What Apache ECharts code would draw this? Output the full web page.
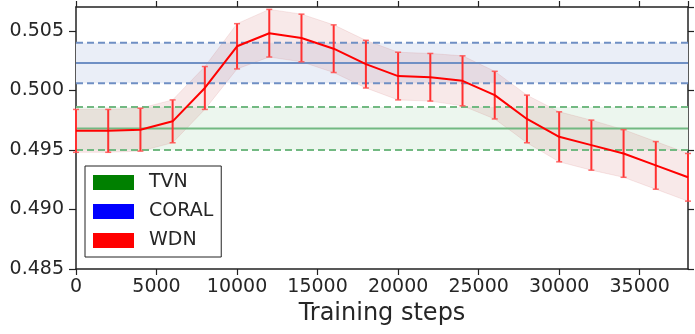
<!DOCTYPE html>
<html>
<head>
<meta charset="utf-8">
<script src="https://cdn.jsdelivr.net/npm/echarts@6/dist/echarts.min.js"></script>
<style>
  html, body { margin: 0; padding: 0; background: #fff; }
  #chart { width: 695px; height: 334px; }
</style>
</head>
<body>
<div id="chart"></div>
<script>
// training steps
var steps = [0, 2000, 4000, 6000, 8000, 10000, 12000, 14000, 16000, 18000,
  20000, 22000, 24000, 26000, 28000, 30000, 32000, 34000, 36000, 38000];
// WDN mean and std
var wdnMean = [0.4966, 0.4966, 0.4967, 0.4974, 0.5002, 0.5037, 0.5048, 0.5044, 0.5035, 0.5022,
  0.5012, 0.5011, 0.5008, 0.4996, 0.4976, 0.4961, 0.4954, 0.4947, 0.4937, 0.4927];
var wdnStd = [0.0018, 0.0018, 0.0018, 0.0018, 0.0018, 0.0019, 0.0020, 0.0020, 0.0020, 0.0020,
  0.0020, 0.0020, 0.0021, 0.0020, 0.0020, 0.0021, 0.0021, 0.0020, 0.0020, 0.0020];
// baselines: mean, std
var tvnMean = 0.4968, tvnStd = 0.0018;
var coralMean = 0.5023, coralStd = 0.0017;

var textColor = '#262626';
var font = 'DejaVu Sans';
var xMin = 0, xMax = 38000;

var meanData = [], errData = [];
for (var i = 0; i < steps.length; i++) {
  meanData.push([steps[i], wdnMean[i]]);
  errData.push([steps[i], wdnMean[i] - wdnStd[i], wdnMean[i] + wdnStd[i]]);
}

// shaded band: whole polygon drawn once from all rows
function bandSeries(rows, fill, edge, z) {
  return {
    type: 'custom',
    data: rows,
    silent: true,
    z: z,
    renderItem: function (params, api) {
      if (params.dataIndex !== 0) return null;
      var top = [], bot = [];
      for (var k = 0; k < rows.length; k++) {
        top.push(api.coord([rows[k][0], rows[k][2]]));
        bot.push(api.coord([rows[k][0], rows[k][1]]));
      }
      var pts = top.concat(bot.slice().reverse());
      return {
        type: 'polygon',
        shape: { points: pts },
        style: { fill: fill, stroke: edge, lineWidth: edge ? 1 : 0 }
      };
    }
  };
}

function hLine(name, y, color, dash) {
  return {
    name: name,
    type: 'line',
    data: [[xMin, y], [xMax, y]],
    symbol: 'none',
    silent: true,
    color: color,
    lineStyle: { color: color, width: 2, type: dash ? [7, 4] : 'solid' },
    z: 3
  };
}

var myChart = echarts.init(document.getElementById('chart'));

myChart.setOption({
  animation: false,
  textStyle: { fontFamily: font, color: textColor },
  grid: { left: 76, right: 7, top: 7, bottom: 65 },
  legend: {
    orient: 'vertical',
    left: 85,
    top: 166,
    padding: [7, 8, 7, 8],
    itemGap: 10,
    itemWidth: 41,
    itemHeight: 15,
    icon: 'rect',
    borderColor: '#222',
    borderWidth: 1,
    backgroundColor: '#fff',
    textStyle: { fontSize: 19, color: textColor, fontFamily: font, padding: [0, 0, 0, 10] },
    data: [
      { name: 'TVN', itemStyle: { color: '#008000', borderWidth: 0 } },
      { name: 'CORAL', itemStyle: { color: '#0000ff', borderWidth: 0 } },
      { name: 'WDN', itemStyle: { color: '#ff0000', borderWidth: 0 } }
    ]
  },
  xAxis: [
    {
      type: 'value',
      min: xMin,
      max: xMax,
      interval: 5000,
      name: 'Training steps',
      nameLocation: 'middle',
      nameGap: 32,
      nameTextStyle: { fontSize: 24, color: textColor },
      axisLine: { onZero: false, lineStyle: { color: '#222', width: 1.5 } },
      axisTick: { length: 6, lineStyle: { color: '#222', width: 1.2 } },
      axisLabel: {
        fontSize: 19, color: textColor, margin: 9, showMaxLabel: false,
        formatter: function (v) { return String(v); }
      },
      splitLine: { show: false }
    },
    {
      type: 'value',
      position: 'top',
      min: xMin,
      max: xMax,
      interval: 5000,
      axisLine: { onZero: false, lineStyle: { color: '#222', width: 1.5 } },
      axisTick: { length: 6, lineStyle: { color: '#222', width: 1.2 } },
      axisLabel: { show: false },
      splitLine: { show: false }
    }
  ],
  yAxis: [
    {
      type: 'value',
      min: 0.485,
      max: 0.507,
      interval: 0.005,
      axisLine: { show: true, onZero: false, lineStyle: { color: '#222', width: 1.5 } },
      axisTick: { show: true, length: 7, lineStyle: { color: '#222', width: 1.2 } },
      axisLabel: {
        fontSize: 19, color: textColor, margin: 12, showMaxLabel: false,
        formatter: function (v) { return v.toFixed(3); }
      },
      splitLine: { show: false }
    },
    {
      type: 'value',
      position: 'right',
      min: 0.485,
      max: 0.507,
      interval: 0.005,
      axisLine: { show: true, onZero: false, lineStyle: { color: '#222', width: 1.5 } },
      axisTick: { show: true, length: 6, lineStyle: { color: '#222', width: 1.2 } },
      axisLabel: { show: false },
      splitLine: { show: false }
    }
  ],
  series: [
    bandSeries([[xMin, tvnMean - tvnStd, tvnMean + tvnStd], [xMax, tvnMean - tvnStd, tvnMean + tvnStd]], '#ecf6ee', null, 1),
    bandSeries([[xMin, coralMean - coralStd, coralMean + coralStd], [xMax, coralMean - coralStd, coralMean + coralStd]], '#eaeef7', null, 1),
    bandSeries(errData, 'rgba(200,70,75,0.12)', 'rgba(200,70,75,0.12)', 2),
    hLine('TVN', tvnMean, '#72b982', false),
    hLine('tvnHi', tvnMean + tvnStd, '#72b982', true),
    hLine('tvnLo', tvnMean - tvnStd, '#72b982', true),
    hLine('CORAL', coralMean, '#6f8fc4', false),
    hLine('coralHi', coralMean + coralStd, '#6f8fc4', true),
    hLine('coralLo', coralMean - coralStd, '#6f8fc4', true),
    {
      name: 'WDN',
      type: 'line',
      data: meanData,
      color: '#ff0000',
      symbol: 'none',
      silent: true,
      lineStyle: { color: '#ff0000', width: 2 },
      z: 6
    },
    {
      name: 'wdnErr',
      type: 'custom',
      data: errData,
      silent: true,
      z: 5,
      renderItem: function (params, api) {
        var x = api.value(0);
        var lo = api.coord([x, api.value(1)]);
        var hi = api.coord([x, api.value(2)]);
        var w = 3;
        var cap = { stroke: 'rgba(255,80,80,0.85)', lineWidth: 1.5 };
        return {
          type: 'group',
          children: [
            { type: 'line', shape: { x1: lo[0], y1: lo[1], x2: hi[0], y2: hi[1] }, style: { stroke: '#ff3030', lineWidth: 2 } },
            { type: 'line', shape: { x1: lo[0] - w, y1: lo[1], x2: lo[0] + w, y2: lo[1] }, style: cap },
            { type: 'line', shape: { x1: hi[0] - w, y1: hi[1], x2: hi[0] + w, y2: hi[1] }, style: cap }
          ]
        };
      }
    }
  ]
});
</script>
</body>
</html>
